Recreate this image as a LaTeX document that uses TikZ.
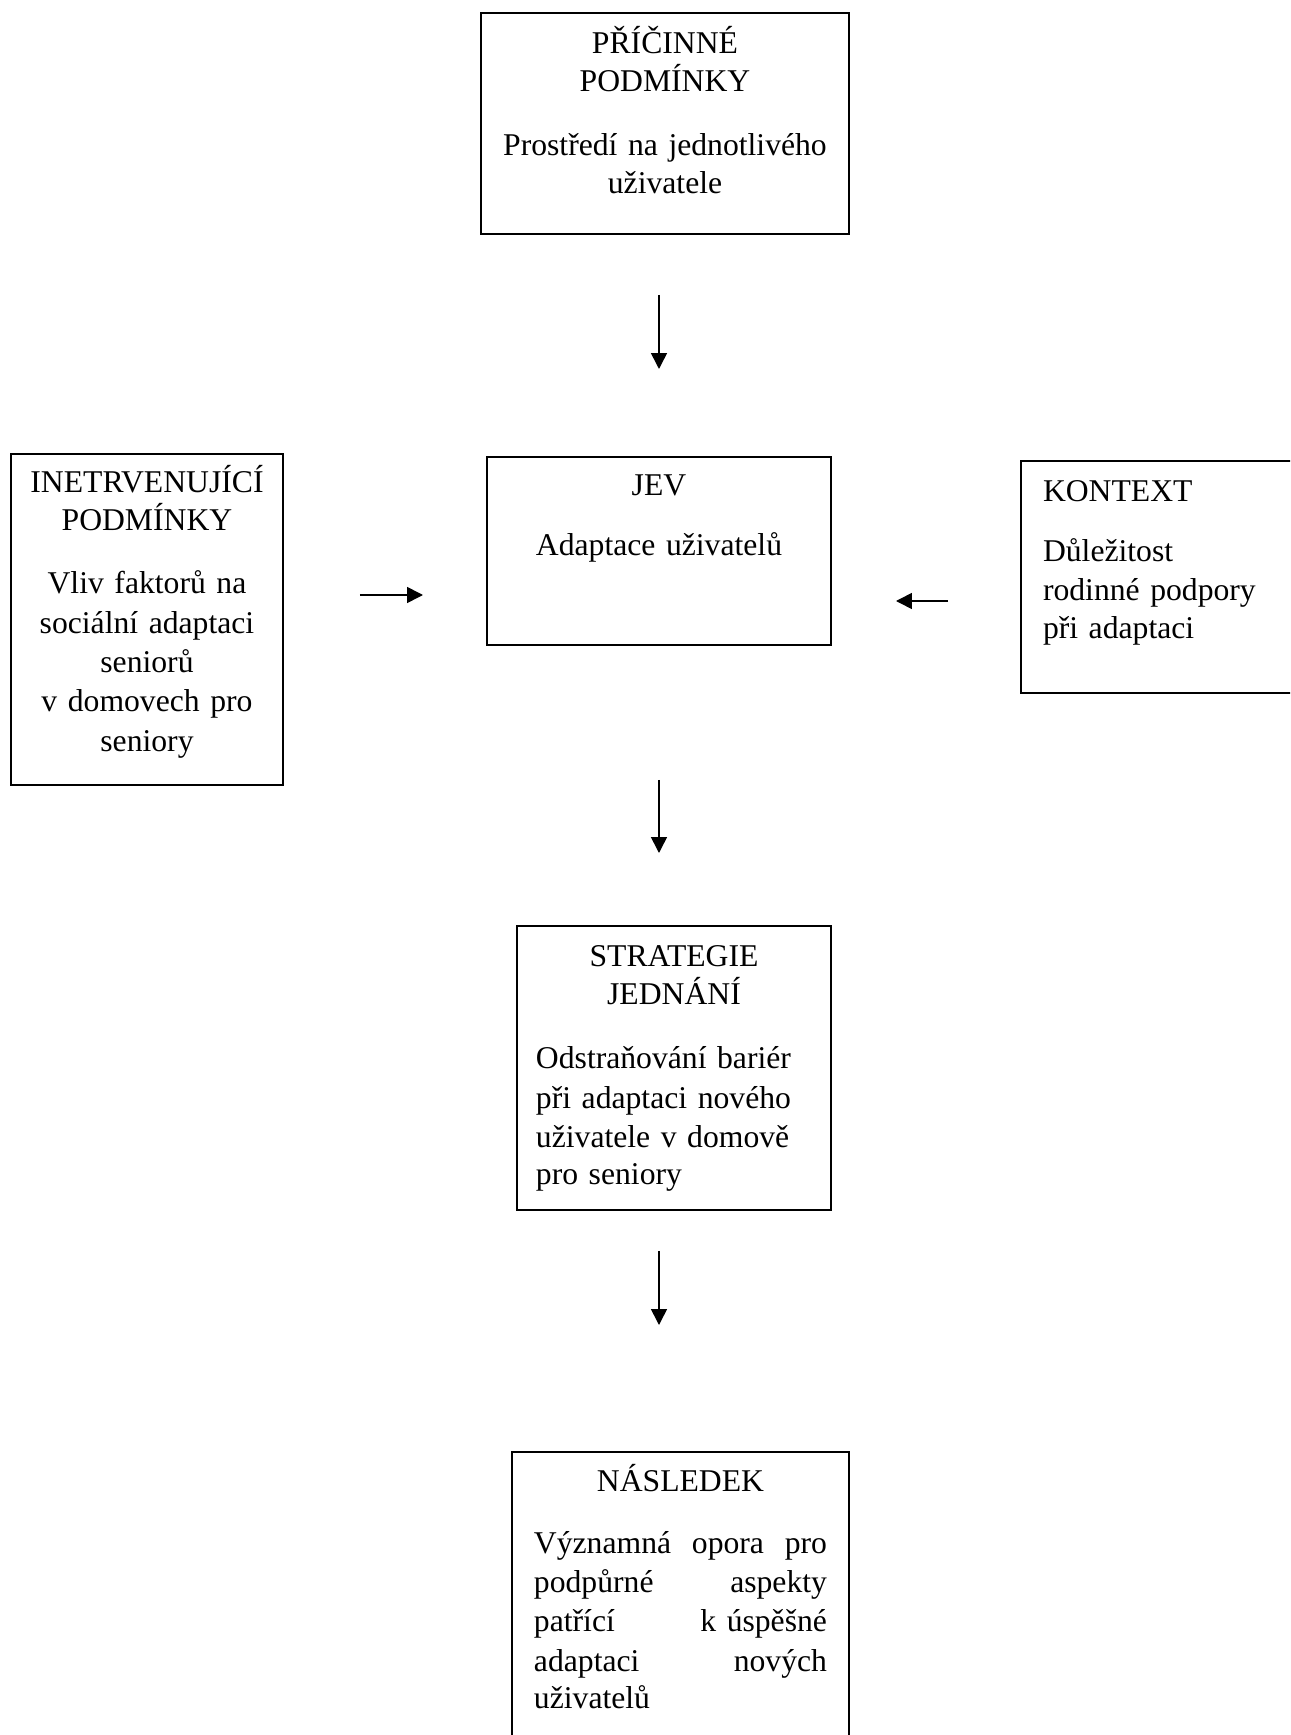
\documentclass[tikz,border=0pt]{standalone}
\usepackage{fontspec}
\setmainfont{Liberation Serif}
\usepackage{tikz}
\usetikzlibrary{arrows.meta}

\newlength{\pxu}
\setlength{\pxu}{0.379pt}
\newcommand{\telo}{\fontsize{12}{14.9}\selectfont}

\begin{document}
\begin{tikzpicture}[x=\pxu, y=-\pxu, line width=.75pt]
  \tikzstyle{pole}=[draw, anchor=north west, inner ysep=0pt, font=\fontsize{12}{14.2}\selectfont]
  \tikzstyle{sipka}=[-{Triangle[length=6pt,width=6pt]}, line width=.6pt]
\useasboundingbox (0,0) rectangle (1290,1735);
\clip (0,0) rectangle (1290,1735);

% boxes
\node[pole, align=center, inner xsep=10\pxu, text width=348\pxu, text height=41\pxu, text depth=180\pxu] (pricina) at (480,12)
    {PŘÍČINNÉ\\PODMÍNKY\\[27\pxu]Prostředí na jednotlivého\\uživatele};
\node[pole, inner xsep=10\pxu, text width=252\pxu, text height=39\pxu, text depth=292\pxu] (vlivy) at (10,453)
    {{\centering INETRVENUJÍCÍ\\PODMÍNKY\par\vspace{24\pxu}\telo Vliv faktorů na\\sociální adaptaci\\seniorů\\v domovech pro\\seniory\par}};
\node[pole, align=center, inner xsep=10\pxu, text width=324\pxu, text height=39\pxu, text depth=149\pxu] (jev) at (486,456)
    {JEV\\[22\pxu]Adaptace uživatelů};
\node[pole, inner xsep=22\pxu, text width=246\pxu, text height=41\pxu, text depth=191\pxu] (kontext) at (1020,460)
    {KONTEXT\par\vspace{20\pxu}\telo Důležitost\\rodinné podpory\\při adaptaci};
\node[pole, inner xsep=19\pxu, text width=276\pxu, text height=41\pxu, text depth=243\pxu] (strategie) at (516,925)
    {{\centering STRATEGIE\\JEDNÁNÍ\par}\vspace{25\pxu}\telo Odstraňování bariér\\při adaptaci nového\\uživatele v domově\\pro seniory};
\node[pole, inner xsep=22\pxu, text width=293\pxu, text height=39\pxu, text depth=300\pxu] (nasledek) at (511,1451)
    {{\centering NÁSLEDEK\par}\vspace{23\pxu}\telo Významná\hfill opora\hfill pro\\
     podpůrné\hfill aspekty\\
     patřící\hfill k úspěšné\\
     adaptaci\hfill nových\\
     uživatelů};

% arrows
\draw[sipka, shorten <=60\pxu, shorten >=87\pxu] (jev.north |- pricina.south) -- (jev.north);
\draw[sipka, shorten <=134\pxu, shorten >=72\pxu] (jev.south) -- (jev.south |- strategie.north);
\draw[sipka, shorten <=40\pxu, shorten >=126\pxu] (jev.south |- strategie.south) -- (jev.south |- nasledek.north);
\draw[sipka, shorten <=76\pxu, shorten >=63\pxu] (vlivy.east |- 0,595) -- (jev.west |- 0,595);
\draw[sipka, shorten <=72\pxu, shorten >=64\pxu] (kontext.west |- 0,601) -- (jev.east |- 0,601);
\end{tikzpicture}
\end{document}
